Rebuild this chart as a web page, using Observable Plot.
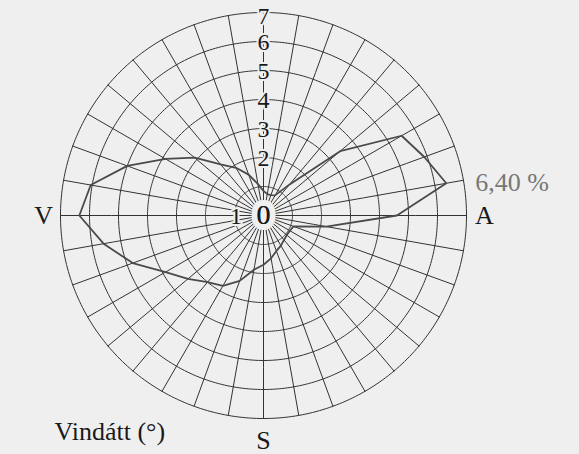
<!DOCTYPE html>
<html>
<head>
<meta charset="utf-8">
<script src="https://cdn.jsdelivr.net/npm/d3@7"></script>
<script src="https://cdn.jsdelivr.net/npm/@observablehq/plot@0.6"></script>
<style>
  html, body { margin: 0; padding: 0; background: #efefef; }
</style>
</head>
<body>
<div id="chart"></div>
<script>
// Wind direction (degrees, clockwise from north) and frequency (%)
const directions = [0, 10, 20, 30, 40, 50, 60, 70, 80, 90, 100, 110,
  120, 130, 140, 150, 160, 170, 180, 190, 200, 210, 220, 230,
  240, 250, 260, 270, 280, 290, 300, 310, 320, 330, 340, 350];
const frequencies = [0.85, 0.75, 0.75, 0.8, 1.4, 3.45, 5.5, 5.9, 6.4, 4.6, 2.2, 1.1,
  1.05, 1.05, 1.1, 1.2, 1.3, 1.5, 1.7, 1.9, 2.4, 2.8, 3.0, 3.4,
  3.9, 4.8, 5.6, 6.35, 6.05, 5.0, 3.9, 3.1, 2.3, 1.9, 1.5, 1.1];
const ringValues = [1, 2, 3, 4, 5, 6, 7];
const ringLabels = ["2", "3", "4", "5", "6"];
const outerRingLabel = "7";
const spokeDirections = directions;
const compassLabels = ["A", "S", "V"];
const compassDirections = [90, 180, 270];
const axisTitle = "Vindátt (°)";

const bg = "#efefef";
const maxR = 7;
const edgeR = 6.999;
const lon = b => 180 - b;
const lat = r => 90 - r * 10;

const data = directions.map((d, i) => ({dir: d, freq: frequencies[i]}));
const maxRec = data.reduce((a, b) => (b.freq > a.freq ? b : a));

const rings = ringValues.map(r => d3.geoCircle().center([0, 90]).radius(r * 10).precision(1)());
const spokes = spokeDirections.map(b => ({type: "LineString", coordinates: [[lon(b), 90], [lon(b), lat(maxR)]]}));

const ringLabelData = ringLabels.map(t => ({t, r: +t, dir: 0}));
ringLabelData.push({t: "1", r: 0.95, dir: 270});
const compassData = compassLabels.map((t, i) => ({t, dir: compassDirections[i]}));

const font = "Liberation Serif";
const compassOffset = {90: [18, 0], 180: [0, 22], 270: [-17, 0]};

const chart = Plot.plot({
  width: 579,
  height: 454,
  marginLeft: 60,
  marginRight: 113,
  marginTop: 12,
  marginBottom: 36,
  projection: {
    type: "azimuthal-equidistant",
    rotate: [0, -90],
    domain: d3.geoCircle().center([0, 90]).radius(maxR * 10).precision(1)()
  },
  style: {background: bg, fontFamily: font, color: "#222"},
  marks: [
    Plot.geo(rings, {stroke: "#333", strokeWidth: 1, fill: "none"}),
    Plot.geo(spokes, {stroke: "#333", strokeWidth: 1}),
    Plot.line(data, {
      x: d => lon(d.dir), y: d => lat(d.freq),
      curve: "linear-closed", stroke: "#4a4a4a", strokeWidth: 1.8
    }),
    Plot.text(["0"], {
      x: 0, y: 90, text: d => d,
      fontSize: 28, fill: "#1a1a1a", stroke: bg, strokeWidth: 12
    }),
    Plot.text(["0"], {
      x: 0, y: 90, text: d => d,
      fontSize: 28, fill: "#1a1a1a"
    }),
    Plot.text(ringLabelData, {
      x: d => lon(d.dir), y: d => lat(d.r), text: "t", dy: 1,
      fontSize: 24, fill: "#1a1a1a", stroke: bg, strokeWidth: 4
    }),
    Plot.text([outerRingLabel], {
      x: lon(0), y: lat(edgeR), text: d => d, dy: 4,
      fontSize: 23, fill: "#1a1a1a", stroke: bg, strokeWidth: 4
    }),
    ...compassData.map(c => Plot.text([c], {
      x: d => lon(d.dir), y: lat(edgeR), text: "t",
      dx: compassOffset[c.dir][0], dy: compassOffset[c.dir][1],
      fontSize: 26, fill: "#1a1a1a"
    })),
    Plot.text([maxRec], {
      x: d => lon(d.dir), y: d => lat(d.freq),
      text: d => d.freq.toFixed(2).replace(".", ",") + " %",
      dx: 29, dy: -1, textAnchor: "start", fontSize: 26, fill: "#777"
    }),
    Plot.text([axisTitle], {
      frameAnchor: "bottom-left", text: d => d,
      dx: -6, dy: 21, textAnchor: "start", fontSize: 26, fill: "#1a1a1a"
    })
  ]
});
document.getElementById("chart").append(chart);
</script>
</body>
</html>
